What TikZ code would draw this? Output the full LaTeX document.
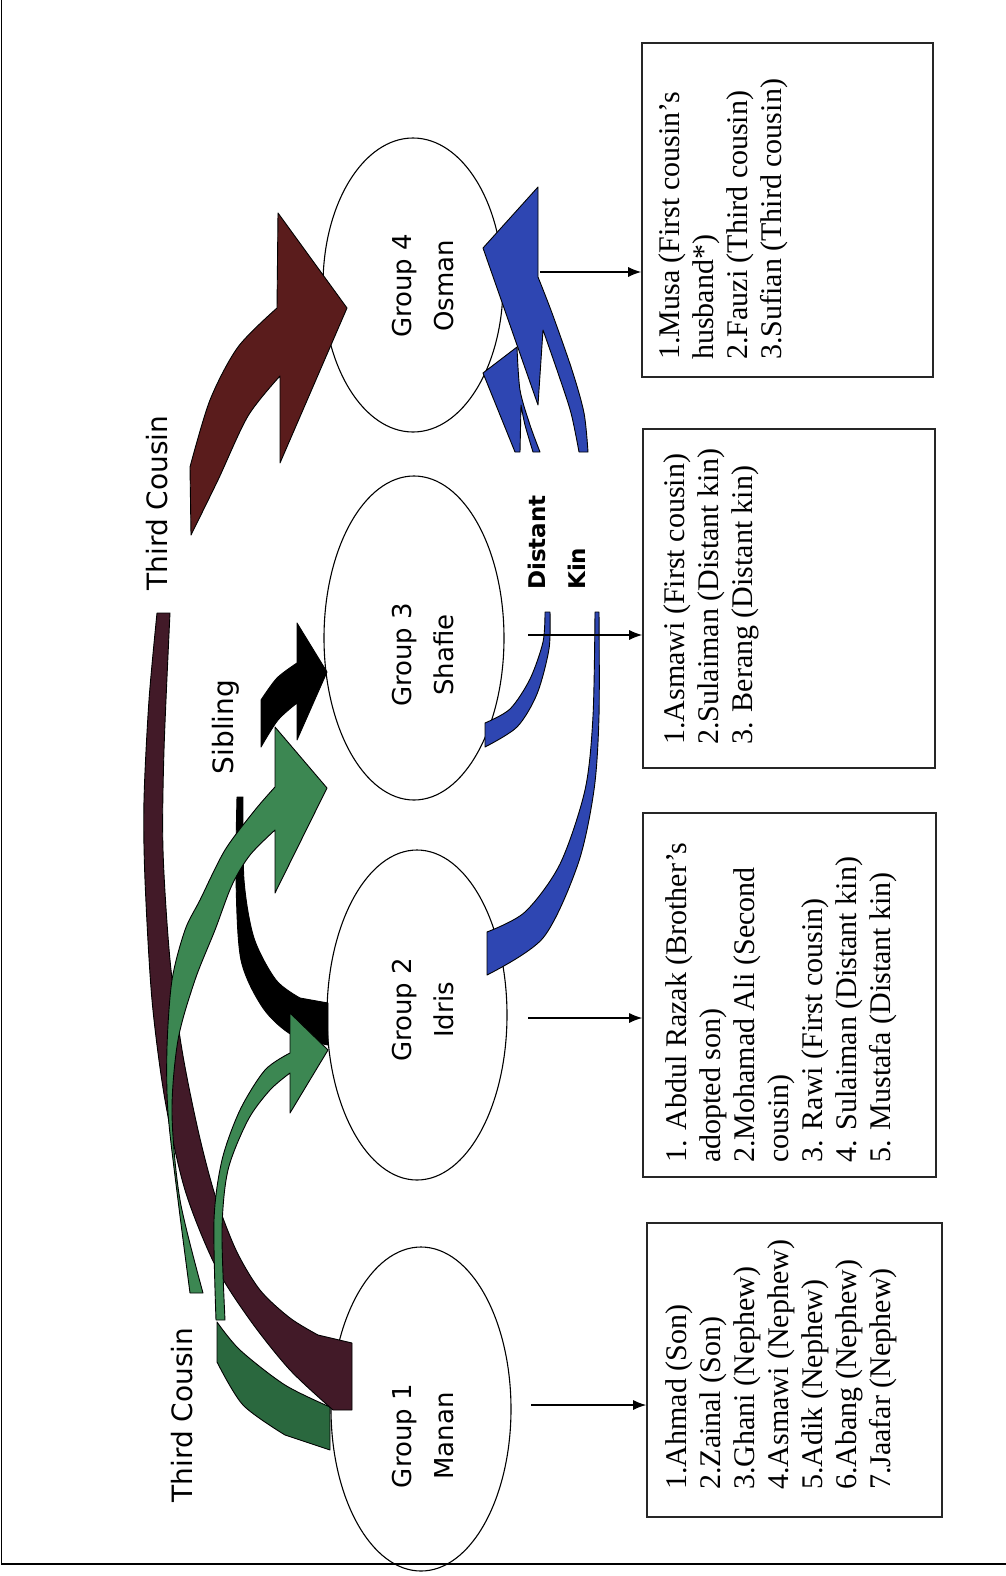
\documentclass[tikz,border=0pt]{standalone}
\usepackage{fontspec}
\setmainfont{Liberation Serif}
\newfontfamily\labelfont{DejaVu Sans}
\usetikzlibrary{arrows.meta,shapes.geometric}
\definecolor{maroonlow}{RGB}{66,26,40}
\definecolor{maroonup}{RGB}{90,28,28}
\definecolor{leafgreen}{RGB}{60,135,82}
\definecolor{darkleaf}{RGB}{42,104,62}
\definecolor{kinblue}{RGB}{46,70,178}
\begin{document}
\begin{tikzpicture}[x=1pt,y=-1pt,
  band/.style={draw=black,line width=0.9pt,line join=round},
  grp/.style={ellipse,draw=black,line width=1.1pt,inner sep=0pt,minimum width=180pt},
  boxframe/.style={draw=black!85,line width=1.6pt,inner sep=0pt},
  boxtext/.style={rotate=90,anchor=north west,inner sep=0pt,align=left,
    font=\fontsize{30}{34}\selectfont},
  grptext/.style={rotate=90,anchor=north,inner sep=0pt,align=center,
    font=\labelfont\fontsize{26}{42}\selectfont},
  reltext/.style={rotate=90,anchor=base,inner sep=0pt,
    font=\labelfont\fontsize{28}{32}\selectfont},
  conn/.style={draw=black,line width=1.2pt,-{Latex[length=13pt,width=10pt]}}]
\useasboundingbox (0,0) rectangle (1006,1576);

% frame lines
\draw[line width=1.2pt] (1.5,0) -- (1.5,1564) -- (1006,1564);

% group ellipses
\node[grp,minimum height=324pt] (g1) at (421,1409) {};
\node[grp,minimum height=330pt] (g2) at (417,1015) {};
\node[grp,minimum height=324pt] (g3) at (414,638) {};
\node[grp,minimum height=294pt] (g4) at (413,285) {};

\node[grptext] (g1t) at (392,1436) {Group 1\\Manan};
\node[grptext] (g2t) at (392,1010) {Group 2\\Idris};
\node[grptext] (g3t) at (392,655) {Group 3\\Shafie};
\node[grptext] (g4t) at (392,286) {Group 4\\Osman};

% member boxes
\node[boxframe,minimum width=295pt,minimum height=294pt] (box1) at (794.5,1370) {};
\node[boxframe,minimum width=293pt,minimum height=364pt] (box2) at (789.5,995) {};
\node[boxframe,minimum width=292pt,minimum height=339pt] (box3) at (789,598.5) {};
\node[boxframe,minimum width=291pt,minimum height=334pt] (box4) at (787.5,210) {};

\node[boxtext] (box1t) at (665,1490) {1.Ahmad (Son)\\2.Zainal (Son)\\3.Ghani (Nephew)\\4.Asmawi (Nephew)\\5.Adik (Nephew)\\6.Abang (Nephew)\\7.Jaafar (Nephew)};
\node[boxtext] (box2t) at (665,1163) {1. Abdul Razak (Brother’s\\adopted son)\\2.Mohamad Ali (Second\\cousin)\\3. Rawi (First cousin)\\4. Sulaiman (Distant kin)\\5. Mustafa (Distant kin)};
\node[boxtext] (box3t) at (663,745) {1.Asmawi (First cousin)\\2.Sulaiman (Distant kin)\\3. Berang (Distant kin)};
\node[boxtext] (box4t) at (658,360) {1.Musa (First cousin’s\\husband*)\\2.Fauzi (Third cousin)\\3.Sufian (Third cousin)};

% green band leaving Group 1 (lower part)
\filldraw[band,fill=darkleaf] plot[smooth] coordinates {(217,1322) (240,1350) (285,1385) (330,1407)}
  -- (330,1450) -- plot[smooth] coordinates {(285,1435) (243,1405) (217,1362)} -- cycle;

% maroon band from Group 1 (third cousin, lower part)
\filldraw[band,fill=maroonlow] plot[smooth] coordinates {(157,613) (149,700) (144,800) (145,880) (152,1000) (165,1100) (185,1190) (215,1265) (250,1320) (290,1370) (333,1410)}
  -- (352,1410) -- (352,1343)
  -- plot[smooth] coordinates {(318,1335) (290,1318) (260,1290) (236,1250) (215,1195) (198,1130) (182,1050) (170,960) (163,850) (164,750) (170,613)} -- cycle;

% maroon arrow into Group 4
\filldraw[band,fill=maroonup] plot[smooth] coordinates {(190,467) (210,400) (238,347) (277,308)}
  -- (278,213) -- (347,308) -- (280,463)
  -- plot[smooth] coordinates {(280,376) (248,416) (218,480) (191,535)} -- cycle;

% black sibling band into Group 2
\filldraw[band,fill=black] plot[smooth] coordinates {(237,797) (236,880) (241,960) (263,1008) (292,1035) (328,1045)}
  -- (328,1003)
  -- plot[smooth] coordinates {(300,998) (276,980) (254,938) (244,880) (243,797)} -- cycle;

% black sibling arrow into Group 3
\filldraw[band,fill=black] (297,623) -- (327,672) -- (297,740) -- (297,703)
  -- plot[smooth] coordinates {(297,703) (278,720) (261,747)}
  -- (261,700) -- plot[smooth] coordinates {(261,700) (277,678) (297,663)} -- cycle;

% green arrow into Group 3
\filldraw[band,fill=leafgreen] plot[smooth] coordinates {(190,1293) (178,1200) (168,1113) (167,1047) (172,980) (185,930) (200,900) (225,850) (255,810) (275,787)}
  -- (275,727) -- (327,788) -- (275,893) -- (275,830)
  -- plot[smooth] coordinates {(275,830) (250,855) (232,885) (215,930) (195,980) (178,1040) (172,1113) (180,1200) (203,1293)} -- cycle;

% green arrow into Group 2
\filldraw[band,fill=leafgreen] plot[smooth] coordinates {(216,1320) (214,1220) (222,1160) (240,1110) (265,1070) (290,1053)}
  -- (290,1013) -- (328,1050) -- (290,1113) -- (290,1073)
  -- plot[smooth] coordinates {(290,1073) (270,1090) (248,1120) (228,1170) (222,1230) (225,1320)} -- cycle;

% blue bands leaving Groups 2 and 3
\filldraw[band,fill=kinblue] plot[smooth] coordinates {(487,932) (525,912) (560,864) (585,790) (593,716) (595,612)}
  -- (599,612) -- plot[smooth] coordinates {(599,612) (599,716) (594,790) (578,864) (543,938) (487,975)} -- cycle;
\filldraw[band,fill=kinblue] plot[smooth] coordinates {(485,723) (510,709) (530,679) (543,642) (545,612)}
  -- (550,612) -- plot[smooth] coordinates {(550,612) (549,649) (537,694) (517,727) (485,747)} -- cycle;

% blue arrows into Group 4
\filldraw[band,fill=kinblue] (483,248) -- (538,187) -- (538,277)
  -- plot[smooth] coordinates {(538,277) (552,313) (572,370) (584,413) (588,452)}
  -- (579,452) -- plot[smooth] coordinates {(579,452) (571,413) (558,373) (543,330)}
  -- (538,405) -- cycle;
\filldraw[band,fill=kinblue] (483,373) -- (517,347)
  -- plot[smooth] coordinates {(517,347) (520,390) (530,425) (540,452)}
  -- (533,452) -- plot[smooth] coordinates {(533,452) (525,425) (521,405)}
  -- (520,452) -- (515,452) -- cycle;

% relation labels
\node[reltext] (tcl) at (192,1415) {Third Cousin};
\node[reltext] (tcu) at (167,503) {Third Cousin};
\node[reltext] (sib) at (233,727) {Sibling};
\node[rotate=90,anchor=north west,inner sep=0pt,align=left,
  font=\labelfont\bfseries\fontsize{23}{40}\selectfont] (dk) at (528,590) {Distant\\Kin};

% connectors to the member lists
\coordinate (c1) at (531,1405);
\coordinate (c2) at (528,1018);
\coordinate (c3) at (528,635);
\coordinate (c4) at (540,272);
\draw[conn] (c1) -- (c1 -| box1.west);
\draw[conn] (c2) -- (c2 -| box2.west);
\draw[conn] (c3) -- (c3 -| box3.west);
\draw[conn] (c4) -- (c4 -| box4.west);
\end{tikzpicture}
\end{document}
